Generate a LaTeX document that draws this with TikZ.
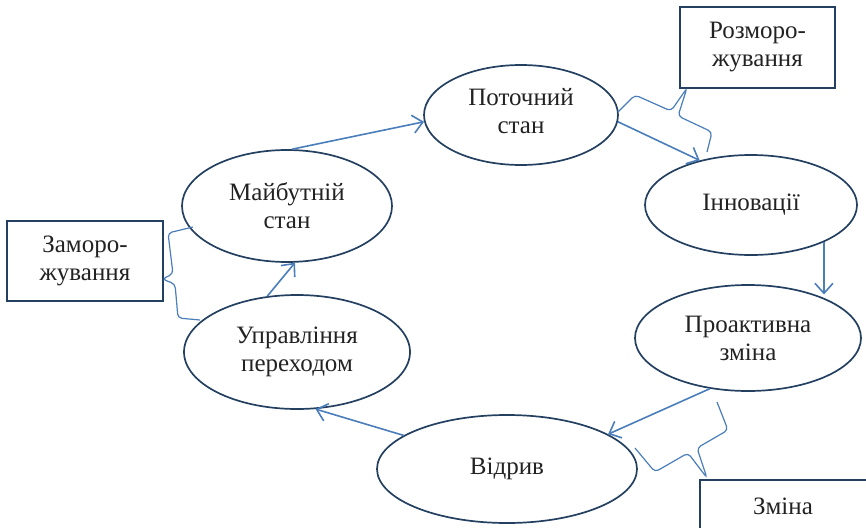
\documentclass[tikz,border=0pt]{standalone}
\usepackage{fontspec}
\setmainfont{Liberation Serif}
\usetikzlibrary{shapes.geometric,arrows.meta,calc}
\definecolor{navy}{HTML}{244061}
\definecolor{wblue}{HTML}{4A7EBB}
\definecolor{txt}{HTML}{222222}
\tikzset{
  ell/.style={ellipse,draw=navy,line width=1.7pt,inner sep=0pt,align=center,
    text=txt,font=\fontsize{25}{28}\selectfont},
  lbox/.style={rectangle,draw=navy,line width=1.7pt,inner sep=0pt,align=center,
    text=txt,font=\fontsize{25}{28}\selectfont},
  arr/.style={draw=wblue,line width=1.6pt,-{Straight Barb[length=10pt,width=18pt,line width=1.6pt]}},
  brc/.style={draw=wblue,line width=1.2pt,rounded corners=4pt},
}
\begin{document}
\begin{tikzpicture}[x=1pt,y=-1pt]
\useasboundingbox (0,0) rectangle (866,527);
\node[ell,minimum width=194pt,minimum height=100pt] (pot) at (521,115) {Поточний\\стан\\[-20pt]};
\node[ell,minimum width=212pt,minimum height=100pt] (inn) at (751,205) {Інновації};
\node[ell,minimum width=226pt,minimum height=106pt] (pro) at (748,338) {Проактивна\\зміна};
\node[ell,minimum width=260pt,minimum height=108pt] (otr) at (507,469) {Відрив};
\node[ell,minimum width=226pt,minimum height=114pt] (upr) at (297,352) {Управління\\переходом};
\node[ell,minimum width=210pt,minimum height=112pt] (fut) at (287,206) {Майбутній\\стан};

\node[lbox,minimum width=155pt,minimum height=81pt] (roz) at (757.5,47.5) {Розморо-\\жування};
\node[lbox,minimum width=156pt,minimum height=80pt] (zam) at (85,261) {Заморо-\\жування};
\begin{scope}
\clip (0,0) rectangle (866,527);
\node[lbox,minimum width=168pt,minimum height=80pt,anchor=north west] (zmi) at (699,479) {};
\end{scope}
\node[text=txt,font=\fontsize{25}{28}\selectfont] (zmit) at (783,506) {Зміна};

\draw[arr] (fut.85) -- (pot.184);
\draw[arr] (pot.-4) -- (inn.139);
\draw[arr] (inn.-27) -- ({inn.-27} |- {pro.33});
\draw[arr] (pro.233) -- (otr.19);
\draw[arr] (otr.162) -- (upr.-72);
\draw[arr] (upr.118) -- (fut.-82);

\draw[brc] (618,112) -- (635,95) -- (671,111) -- (687,88) -- (678,116) -- (712,132) -- (707,152);
\draw[brc] (193,227) -- (168,233) -- (173,274) -- (162,279) -- (175,284) -- (178,318) -- (200,320);
\draw[brc] (717,402) -- (728,430) -- (697,448) -- (707,478) -- (688,453) -- (655,472) -- (635,448);
\end{tikzpicture}
\end{document}
